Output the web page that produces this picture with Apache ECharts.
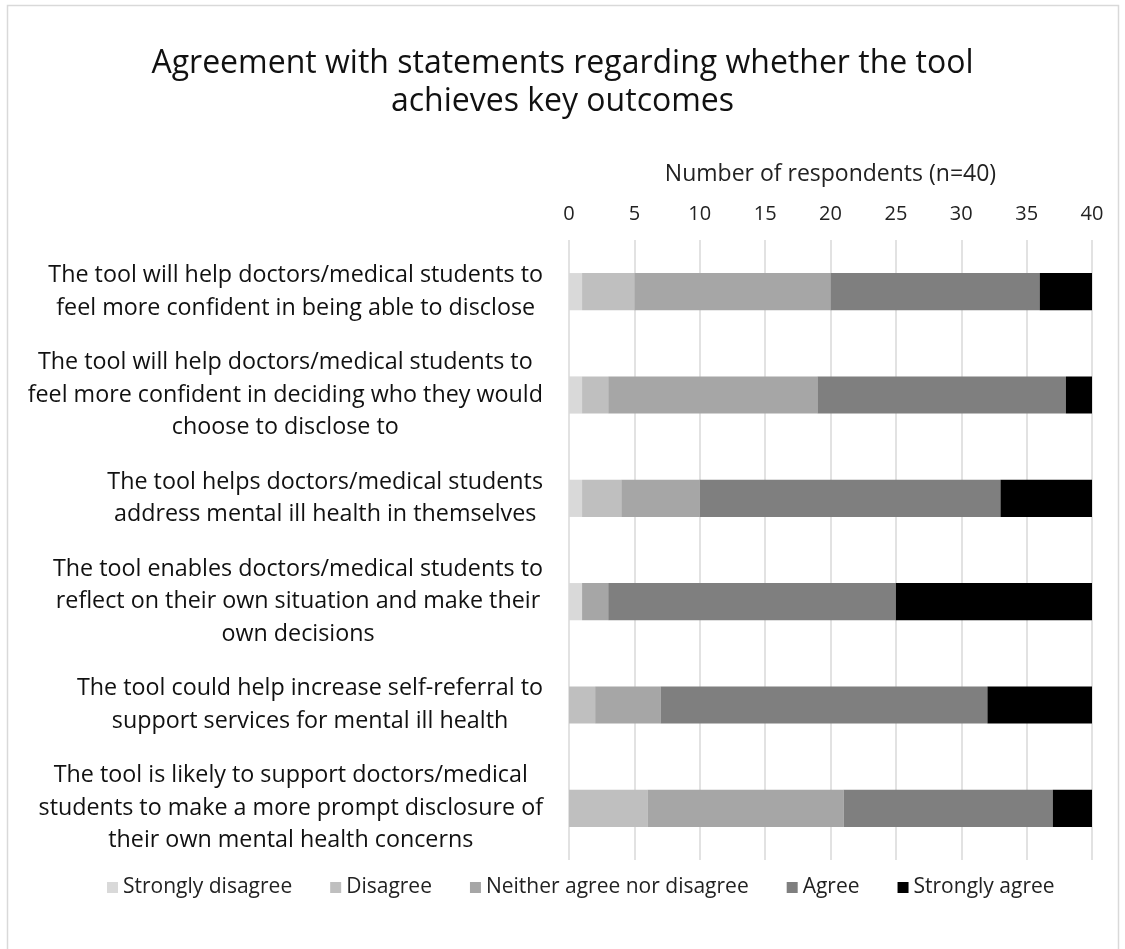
<!DOCTYPE html>
<html>
<head>
<meta charset="utf-8">
<title>Agreement with statements</title>
<script src="https://cdn.jsdelivr.net/npm/echarts@6/dist/echarts.min.js"></script>
<style>
  html, body { margin: 0; padding: 0; background: #fff; }
  #chart { width: 1125px; height: 949px; }
</style>
</head>
<body>
<div id="chart"></div>
<script>
// Survey statements (top to bottom), wrapped as they appear on the axis
const statements = [
  'The tool will help doctors/medical students to\nfeel more confident in being able to disclose',
  'The tool will help doctors/medical students to\nfeel more confident in deciding who they would\nchoose to disclose to',
  'The tool helps doctors/medical students\naddress mental ill health in themselves',
  'The tool enables doctors/medical students to\nreflect on their own situation and make their\nown decisions',
  'The tool could help increase self-referral to\nsupport services for mental ill health',
  'The tool is likely to support doctors/medical\nstudents to make a more prompt disclosure of\ntheir own mental health concerns'
];

// Respondent counts per response level (n = 40)
const stronglyDisagree = [1, 1, 1, 1, 0, 0];
const disagree         = [4, 2, 3, 0, 2, 6];
const neither          = [15, 16, 6, 2, 5, 15];
const agree            = [16, 19, 23, 22, 25, 16];
const stronglyAgree    = [4, 2, 7, 15, 8, 3];

const levelNames = ['Strongly disagree', 'Disagree', 'Neither agree nor disagree', 'Agree', 'Strongly agree'];
const levelValues = [stronglyDisagree, disagree, neither, agree, stronglyAgree];
const levelColors = ['#d9d9d9', '#bfbfbf', '#a6a6a6', '#7f7f7f', '#000000'];

const FONT = '"Open Sans", Lato, sans-serif';

const chart = echarts.init(document.getElementById('chart'), null, { renderer: 'canvas' });

chart.setOption({
  backgroundColor: '#ffffff',
  animation: false,
  graphic: [{
    type: 'rect',
    shape: { x: 7.5, y: 5.5, width: 1111, height: 980 },
    style: { fill: 'none', stroke: '#d9d9d9', lineWidth: 1.5 },
    silent: true
  }],
  title: {
    text: 'Agreement with statements regarding whether the tool\nachieves key outcomes',
    left: 'center',
    top: 40,
    textStyle: {
      fontFamily: FONT,
      fontSize: 32,
      fontWeight: 'normal',
      lineHeight: 38,
      color: '#111'
    }
  },
  legend: {
    bottom: 46,
    left: 102,
    itemWidth: 11,
    itemHeight: 11,
    itemGap: 38,
    icon: 'rect',
    textStyle: { fontFamily: FONT, fontSize: 21, color: '#222' },
    data: levelNames
  },
  grid: {
    left: 569,
    right: 33,
    top: 240,
    bottom: 89
  },
  xAxis: {
    type: 'value',
    position: 'top',
    min: 0,
    max: 40,
    interval: 5,
    name: 'Number of respondents (n=40)',
    nameLocation: 'middle',
    nameGap: 54,
    nameTextStyle: { fontFamily: FONT, fontSize: 23, color: '#222' },
    axisLine: { show: false },
    axisTick: { show: false },
    axisLabel: { fontFamily: FONT, fontSize: 20, color: '#222', margin: 16 },
    splitLine: { show: true, lineStyle: { color: '#d9d9d9', width: 1.5 } }
  },
  yAxis: {
    type: 'category',
    inverse: true,
    data: statements,
    axisLine: { show: false },
    axisTick: { show: false },
    axisLabel: {
      margin: 26,
      align: 'right',
      formatter: function (v) {
        return v.split('\n').map(function (line) { return '{c|' + line + '}'; }).join('\n');
      },
      rich: {
        c: {
          align: 'center',
          fontFamily: FONT,
          fontSize: 23.3,
          lineHeight: 32.5,
          color: '#111'
        }
      }
    }
  },
  series: levelNames.map(function (name, i) {
    return {
      name: name,
      type: 'bar',
      stack: 'total',
      barWidth: '36%',
      itemStyle: { color: levelColors[i] },
      emphasis: { disabled: true },
      data: levelValues[i]
    };
  })
});
</script>
</body>
</html>
